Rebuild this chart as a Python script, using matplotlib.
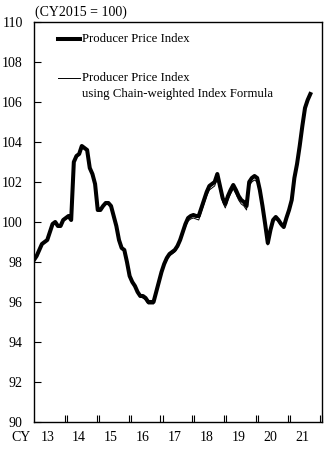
import numpy as np
import matplotlib
matplotlib.use("Agg")
import matplotlib.pyplot as plt
import matplotlib.transforms as mtransforms

plt.rcParams['font.family'] = ['Liberation Serif', 'DejaVu Serif']

# Monthly index, Jan 2013 - Sep 2021 (CY2015 = 100)
ppi = [
    98.1, 98.3, 98.6, 98.9, 99.0, 99.1, 99.5, 99.9, 100.0, 99.8, 99.8, 100.1,          # 2013
    100.2, 100.3, 100.1, 103.0, 103.3, 103.4, 103.8, 103.7, 103.6, 102.7, 102.4, 101.9,  # 2014
    100.6, 100.6, 100.8, 100.95, 100.95, 100.8, 100.3, 99.8, 99.1, 98.7, 98.6, 98.0,    # 2015
    97.3, 97.0, 96.8, 96.5, 96.3, 96.3, 96.2, 96.0, 96.0, 96.0, 96.5, 97.0,            # 2016
    97.5, 97.9, 98.2, 98.4, 98.5, 98.6, 98.8, 99.1, 99.5, 99.9, 100.2, 100.3,          # 2017
    100.35, 100.3, 100.3, 100.7, 101.1, 101.5, 101.8, 101.9, 102.0, 102.4, 101.8, 101.2,  # 2018
    100.9, 101.3, 101.6, 101.85, 101.6, 101.3, 101.1, 101.0, 100.8, 102.0, 102.2, 102.3,  # 2019
    102.2, 101.6, 100.8, 99.9, 98.95, 99.6, 100.1, 100.25, 100.1, 99.9, 99.75, 100.2,   # 2020
    100.6, 101.1, 102.2, 102.9, 103.8, 104.8, 105.7, 106.1, 106.4,                       # 2021
]

chain = [
    98.1, 98.3, 98.6, 98.9, 99.0, 99.1, 99.5, 99.9, 100.0, 99.8, 99.8, 100.1,
    100.2, 100.3, 100.1, 103.0, 103.3, 103.4, 103.8, 103.7, 103.6, 102.7, 102.4, 101.9,
    100.6, 100.6, 100.8, 100.95, 100.9, 100.75, 100.25, 99.75, 99.05, 98.65, 98.55, 97.95,
    97.25, 96.95, 96.75, 96.45, 96.25, 96.2, 96.1, 95.9, 95.9, 95.9, 96.4, 96.95,
    97.45, 97.85, 98.1, 98.3, 98.4, 98.5, 98.7, 99.0, 99.4, 99.75, 100.05, 100.15,
    100.2, 100.15, 100.1, 100.5, 100.9, 101.3, 101.6, 101.7, 101.8, 102.2, 101.6, 101.0,
    100.7, 101.1, 101.4, 101.65, 101.4, 101.1, 100.9, 100.8, 100.6, 101.8, 102.0, 102.1,
    102.0, 101.45, 100.7, 99.8, 98.85, 99.5, 100.0, 100.15, 100.0, 99.8, 99.7, 100.15,
    100.6, 101.1, 102.2, 102.9, 103.8, 104.8, 105.7, 106.1, 106.4,
]

year_labels = ['13', '14', '15', '16', '17', '18', '19', '20', '21']
y_ticks = [90, 92, 94, 96, 98, 100, 102, 104, 106, 108, 110]

months = np.arange(len(ppi))

fig = plt.figure(figsize=(3.33, 4.62), dpi=100)
ax = fig.add_axes([0.102, 0.0866, 0.865, 0.8658])

ax.plot(months, ppi, color='black', lw=2.9, solid_joinstyle='round')
ax.plot(np.arange(len(chain)), chain, color='black', lw=0.7)

ax.set_xlim(0, 12 * len(year_labels))
ax.set_ylim(90, 110)

# y axis
ax.set_yticks(y_ticks)
ax.set_yticklabels([str(t) for t in y_ticks], fontsize=10)
ax.tick_params(axis='y', direction='in', length=5, width=0.8, pad=8, right=False)

# x axis: double ticks at year boundaries
xt = []
for k in range(1, len(year_labels) + 1):
    xt += [12 * k - 0.4, 12 * k + 0.4]
ax.set_xticks(xt)
ax.set_xticklabels([])
ax.tick_params(axis='x', direction='in', length=5, width=0.8, top=False)

trans = mtransforms.blended_transform_factory(ax.transData, ax.transAxes)
for k, lab in enumerate(year_labels):
    ax.text(12 * k + 5, -0.022, lab, transform=trans, ha='center', va='top', fontsize=10)
ax.text(-0.01, -0.022, 'CY', transform=ax.transAxes, ha='right', va='top', fontsize=10)

for s in ax.spines.values():
    s.set_linewidth(1.0)

ax.text(0.005, 1.008, '(CY2015 = 100)', transform=ax.transAxes, ha='left', va='bottom', fontsize=10)

# legend drawn by hand
ax.plot([0.083, 0.16], [0.958, 0.958], transform=ax.transAxes, color='black', lw=2.9)
ax.text(0.167, 0.958, 'Producer Price Index', transform=ax.transAxes, ha='left', va='center', fontsize=9.2)
ax.plot([0.083, 0.16], [0.86, 0.86], transform=ax.transAxes, color='black', lw=0.7)
ax.text(0.167, 0.86, 'Producer Price Index', transform=ax.transAxes, ha='left', va='center', fontsize=9.2)
ax.text(0.167, 0.82, 'using Chain-weighted Index Formula', transform=ax.transAxes, ha='left', va='center', fontsize=9.2)

fig.savefig('out.png', dpi=100)
